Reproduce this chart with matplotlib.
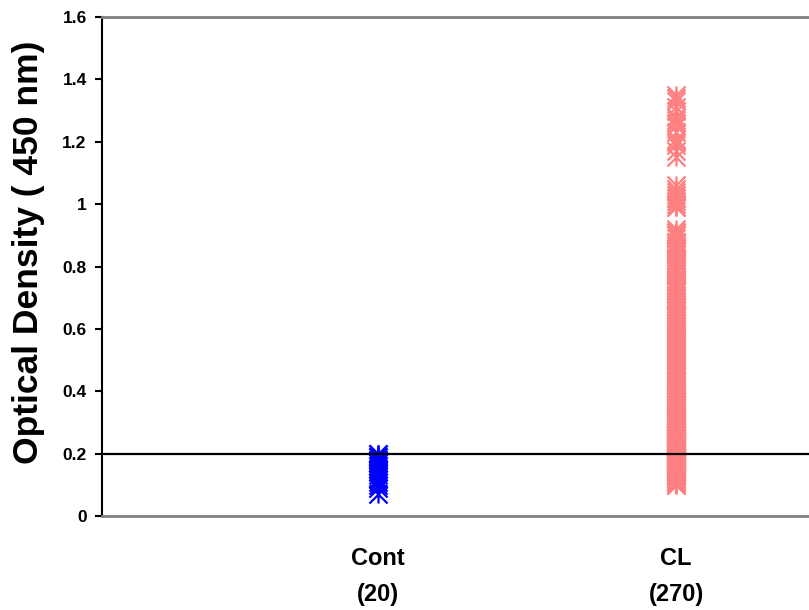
from matplotlib import pyplot as plt
from matplotlib.path import Path
import numpy as np

plt.rcParams['font.family'] = ['Liberation Sans', 'DejaVu Sans']
plt.rcParams['font.weight'] = 'bold'

groups = ["Cont\n(20)", "CL\n(270)"]
cutoff = 0.2

cont = [0.20, 0.20, 0.19, 0.19, 0.18, 0.18, 0.17, 0.17, 0.16, 0.16,
        0.15, 0.15, 0.14, 0.13, 0.12, 0.12, 0.11, 0.10, 0.09, 0.07]

cl = [1.35, 1.34, 1.33, 1.31, 1.30, 1.28, 1.27, 1.26, 1.25, 1.23,
      1.21, 1.20, 1.19, 1.17, 1.15,
      1.06, 1.05, 1.04, 1.03, 1.02, 1.02, 1.01, 1.00, 0.99, 0.99,
      0.92, 0.91, 0.91, 0.90, 0.90, 0.89, 0.88, 0.88, 0.87, 0.86,
      0.86, 0.85, 0.84, 0.84, 0.83, 0.82, 0.82, 0.81, 0.80, 0.80,
      0.79, 0.78, 0.78, 0.77, 0.76, 0.76, 0.75, 0.74, 0.74, 0.73,
      0.72, 0.72, 0.71, 0.70, 0.70, 0.69, 0.68, 0.68, 0.67, 0.66,
      0.66, 0.65, 0.64, 0.64, 0.63, 0.62, 0.62, 0.61, 0.60, 0.60,
      0.59, 0.59, 0.58, 0.57, 0.57, 0.56, 0.56, 0.55, 0.54, 0.54,
      0.53, 0.53, 0.52, 0.51, 0.51, 0.50, 0.50, 0.49, 0.48, 0.48,
      0.47, 0.47, 0.46, 0.45, 0.45, 0.44, 0.44, 0.43, 0.43, 0.42,
      0.42, 0.41, 0.41, 0.40, 0.40, 0.39, 0.39, 0.38, 0.38, 0.37,
      0.37, 0.36, 0.36, 0.35, 0.35, 0.35, 0.34, 0.34, 0.33, 0.33,
      0.33, 0.32, 0.32, 0.31, 0.31, 0.31, 0.30, 0.30, 0.30, 0.29,
      0.29, 0.29, 0.28, 0.28, 0.28, 0.27, 0.27, 0.27, 0.26, 0.26,
      0.26, 0.26, 0.25, 0.25, 0.25, 0.25, 0.24, 0.24, 0.24, 0.24,
      0.23, 0.23, 0.23, 0.23, 0.22, 0.22, 0.22, 0.22, 0.21, 0.21,
      0.21, 0.21, 0.20, 0.20, 0.20, 0.20, 0.19, 0.19, 0.19, 0.19,
      0.18, 0.18, 0.18, 0.18, 0.17, 0.17, 0.17, 0.17, 0.16, 0.16,
      0.16, 0.16, 0.15, 0.15, 0.15, 0.15, 0.14, 0.14, 0.14, 0.14,
      0.13, 0.13, 0.13, 0.12, 0.12, 0.12, 0.11, 0.11, 0.10, 0.10,
      0.905, 0.875, 0.845, 0.815, 0.785, 0.755, 0.725, 0.695, 0.665, 0.635,
      0.605, 0.585, 0.565, 0.545, 0.525, 0.505, 0.485, 0.465, 0.455, 0.435,
      0.415, 0.395, 0.385, 0.365, 0.355, 0.345, 0.325, 0.315, 0.305, 0.295,
      0.285, 0.275, 0.265, 0.255, 0.245, 0.235, 0.225, 0.215, 0.205, 0.195,
      0.185, 0.175, 0.165, 0.155, 0.145, 0.135, 0.125, 0.115, 0.105, 0.255,
      0.235, 0.215, 0.195, 0.175, 0.155, 0.135, 0.305, 0.285, 0.265, 0.245,
      0.225, 0.205, 0.185, 0.165, 0.145]

# excel-like star marker: an x with a vertical stroke
star = Path([(-1, -1), (1, 1), (-1, 1), (1, -1), (0, -1), (0, 1)],
            [Path.MOVETO, Path.LINETO, Path.MOVETO, Path.LINETO,
             Path.MOVETO, Path.LINETO])

fig = plt.figure(figsize=(8.09, 6.10), dpi=100)
ax = fig.add_axes([0.1261, 0.1541, 0.8739, 0.818])

ax.plot(np.full(len(cont), 1), cont, linestyle='none', marker=star,
        markersize=13, markeredgewidth=1.6, color='#0000FF')
ax.plot(np.full(len(cl), 2), cl, linestyle='none', marker=star,
        markersize=13, markeredgewidth=1.6, color='#FF8080')
ax.axhline(cutoff, color='black', linewidth=1.6)

ax.set_xlim(0.074, 2.446)
ax.set_ylim(0, 1.6)
ax.set_yticks(np.arange(0, 1.61, 0.2))
ax.set_yticklabels(["0", "0.2", "0.4", "0.6", "0.8", "1", "1.2", "1.4", "1.6"])
ax.set_xticks([1, 2])
ax.set_xticklabels(groups, fontsize=17, linespacing=1.75)
ax.tick_params(axis='x', length=0, pad=22)
ax.tick_params(axis='y', labelsize=12.5, length=5, width=1.5, pad=6)
ax.set_ylabel("Optical Density ( 450 nm)", fontsize=25.5, fontweight='bold')
ax.yaxis.set_label_coords(-0.08, 0.529)

ax.spines['right'].set_visible(False)
ax.spines['left'].set_color('black')
ax.spines['left'].set_linewidth(1.5)
for side in ['top', 'bottom']:
    ax.spines[side].set_color('#808080')
    ax.spines[side].set_linewidth(2)

plt.savefig("out.png", dpi=100)
